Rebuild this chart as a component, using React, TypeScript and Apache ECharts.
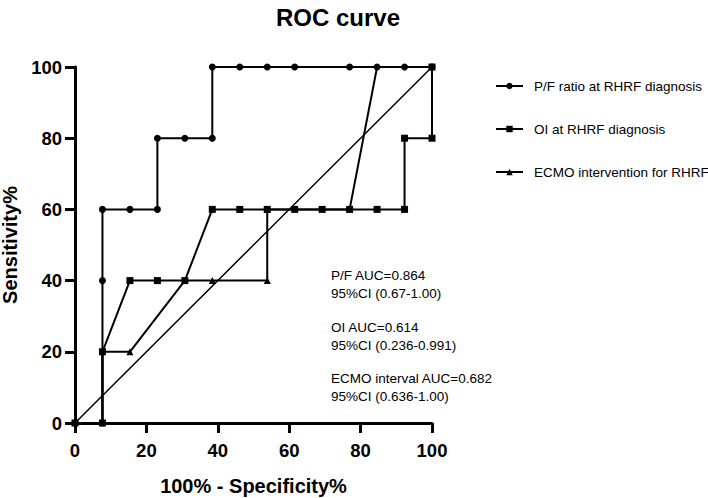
import React, { useEffect, useRef } from "react";
import * as echarts from "echarts";

const xTicks = [0, 20, 40, 60, 80, 100];

const pfName = "P/F ratio at RHRF diagnosis";
const pfX = [0, 7.69, 7.69, 7.69, 15.38, 23.08, 23.08, 30.77, 38.46, 38.46, 46.15, 53.85, 61.54, 76.92, 84.62, 92.31, 100];
const pfY = [0, 0, 40, 60, 60, 60, 80, 80, 80, 100, 100, 100, 100, 100, 100, 100, 100];

const oiName = "OI at RHRF diagnosis";
const oiX = [0, 7.69, 7.69, 15.38, 23.08, 30.77, 38.46, 46.15, 53.85, 61.54, 69.23, 76.92, 84.62, 92.31, 92.31, 100, 100];
const oiY = [0, 0, 20, 40, 40, 40, 60, 60, 60, 60, 60, 60, 60, 60, 80, 80, 100];

const ecmoName = "ECMO intervention for RHRF";
const ecmoX = [0, 7.69, 7.69, 15.38, 30.77, 38.46, 53.85, 53.85, 76.92, 84.62, 100];
const ecmoY = [0, 0, 20, 20, 40, 40, 40, 60, 60, 100, 100];
const ecmoMarkerShown = [false, false, false, true, false, true, true, true, false, false, false];

const refX = [0, 100];
const refY = [0, 100];

const annotations = [
  "P/F AUC=0.864",
  "95%CI (0.67-1.00)",
  "OI AUC=0.614",
  "95%CI (0.236-0.991)",
  "ECMO interval AUC=0.682",
  "95%CI (0.636-1.00)",
];

const FONT = "'Liberation Sans', Arial, Helvetica, sans-serif";

function pairs(xs: number[], ys: number[]) {
  return xs.map((x, i) => [x, ys[i]]);
}

export default function App() {
  const ref = useRef<HTMLDivElement>(null);
  useEffect(() => {
    if (!ref.current) return;
    const chart = echarts.init(ref.current, null, { renderer: "svg" });
    const lineStyle = { color: "#000", width: 2 };
    const annY = [276, 294, 328, 346, 379, 397];
    chart.setOption({
      animation: false,
      backgroundColor: "#fff",
      textStyle: { fontFamily: FONT },
      title: {
        text: "ROC curve",
        left: 333,
        top: 0,
        textAlign: "center",
        textStyle: { fontFamily: FONT, fontSize: 24, fontWeight: "bold", color: "#000" },
      },
      grid: { left: 75, right: 276, top: 67, bottom: 75, outerBoundsMode: "none", containLabel: false },
      legend: {
        orient: "vertical",
        left: 490,
        top: 74,
        itemGap: 29,
        itemWidth: 27,
        itemHeight: 8,
        data: [pfName, oiName, ecmoName],
        textStyle: { fontFamily: FONT, fontSize: 13.5, color: "#000", padding: [0, 0, 0, 6] },
      },
      xAxis: {
        type: "value",
        min: 0,
        max: 100,
        interval: 20,
        name: "100% - Specificity%",
        nameLocation: "middle",
        nameGap: 53,
        nameTextStyle: { fontFamily: FONT, fontSize: 20, fontWeight: "bold", color: "#000" },
        splitLine: { show: false },
        axisLine: { lineStyle: { color: "#000", width: 3 } },
        axisTick: { length: 10, lineStyle: { color: "#000", width: 3 } },
        axisLabel: {
          margin: 18,
          fontFamily: FONT,
          fontSize: 18.5,
          fontWeight: "bold",
          color: "#000",
          formatter: (v: number) => (xTicks.includes(v) ? String(v) : ""),
        },
      },
      yAxis: {
        type: "value",
        min: 0,
        max: 100,
        interval: 20,
        name: "Sensitivity%",
        nameLocation: "middle",
        nameGap: 52,
        nameTextStyle: { fontFamily: FONT, fontSize: 20, fontWeight: "bold", color: "#000" },
        splitLine: { show: false },
        axisLine: { lineStyle: { color: "#000", width: 3 } },
        axisTick: { length: 10, lineStyle: { color: "#000", width: 3 } },
        axisLabel: { margin: 13, fontFamily: FONT, fontSize: 18.5, fontWeight: "bold", color: "#000" },
      },
      graphic: annotations.map((t, i) => ({
        type: "text",
        left: 331,
        top: annY[i] - 8,
        style: { text: t, fontFamily: FONT, fontSize: 13.5, fill: "#000" },
      })),
      series: [
        {
          name: "identity",
          type: "line",
          data: pairs(refX, refY),
          symbol: "none",
          lineStyle: { color: "#000", width: 1.5 },
          z: 1,
        },
        {
          name: pfName,
          type: "line",
          data: pairs(pfX, pfY),
          symbol: "circle",
          symbolSize: 7,
          itemStyle: { color: "#000" },
          lineStyle,
          z: 2,
        },
        {
          name: oiName,
          type: "line",
          data: pairs(oiX, oiY),
          symbol: "rect",
          symbolSize: 7,
          itemStyle: { color: "#000" },
          lineStyle,
          z: 3,
        },
        {
          name: ecmoName,
          type: "line",
          data: pairs(ecmoX, ecmoY).map((p, i) => ({ value: p, symbolSize: ecmoMarkerShown[i] ? 7 : 0 })),
          symbol: "triangle",
          symbolSize: 7,
          itemStyle: { color: "#000" },
          lineStyle,
          z: 4,
        },
      ],
    });
    return () => chart.dispose();
  }, []);
  return <div ref={ref} style={{ width: 708, height: 498, position: "absolute", left: 0, top: 0 }} />;
}
